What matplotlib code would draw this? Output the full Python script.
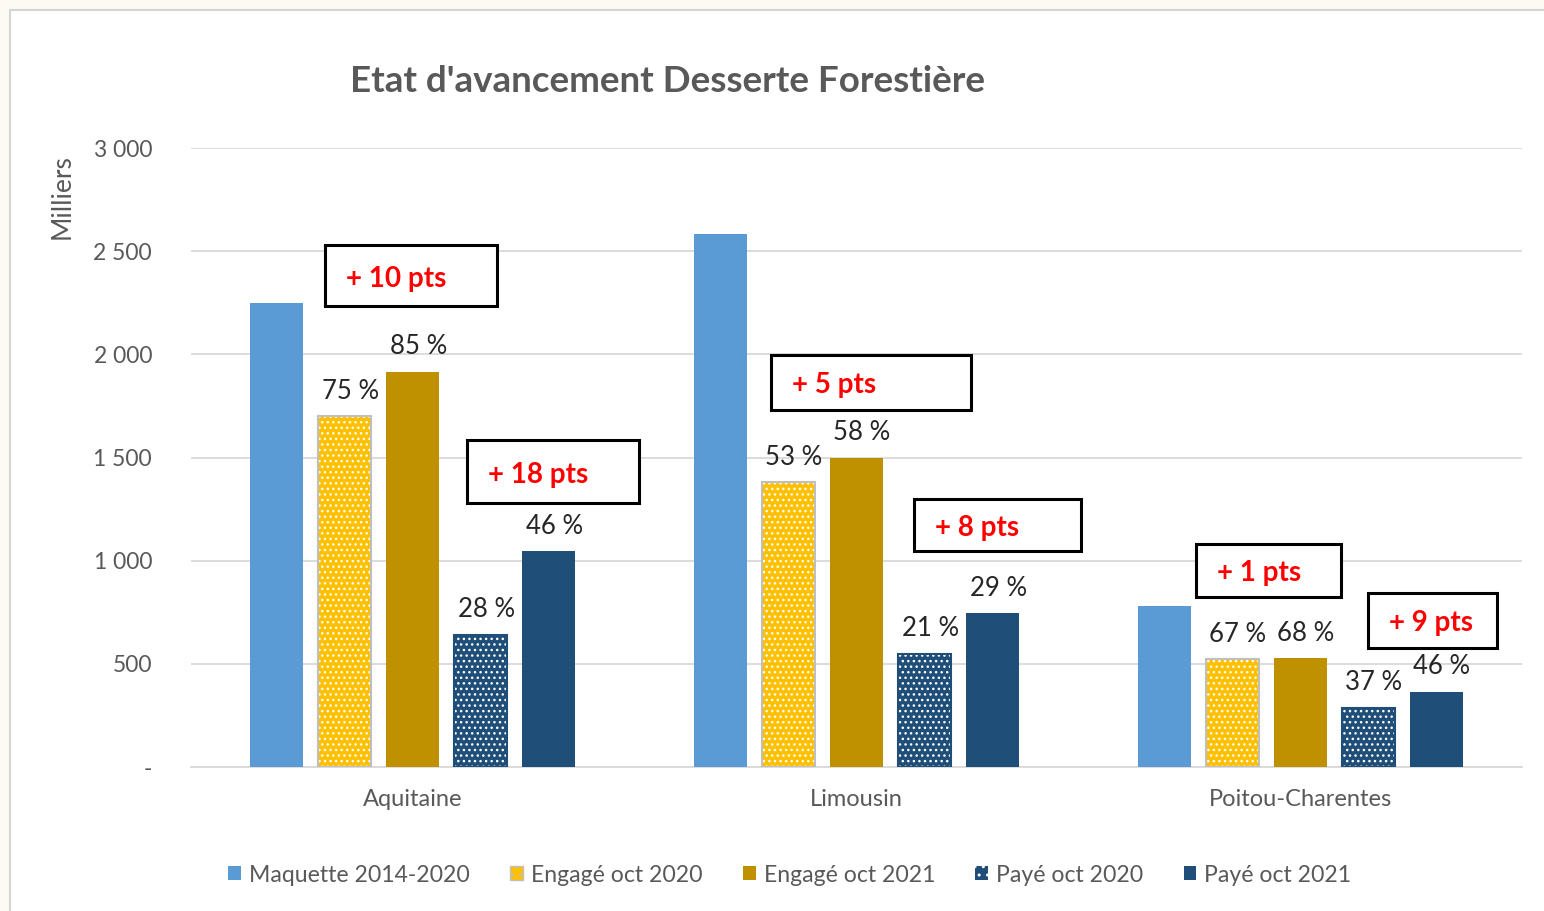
import matplotlib
matplotlib.use("Agg")
import matplotlib.pyplot as plt
import numpy as np
from matplotlib.patches import Patch, Rectangle
from matplotlib.ticker import FuncFormatter

# ---------------- data ----------------
regions = ["Aquitaine", "Limousin", "Poitou-Charentes"]
series_names = ["Maquette 2014-2020", "Engagé oct 2020", "Engagé oct 2021",
                "Payé oct 2020", "Payé oct 2021"]
maquette = [2250, 2585, 780]
engage_2020 = [1700, 1380, 523]
engage_2021 = [1915, 1500, 528]
paye_2020 = [640, 550, 286]
paye_2021 = [1045, 745, 364]

pct_engage_2020 = ["75 %", "53 %", "67 %"]
pct_engage_2021 = ["85 %", "58 %", "68 %"]
pct_paye_2020 = ["28 %", "21 %", "37 %"]
pct_paye_2021 = ["46 %", "29 %", "46 %"]

gain_engage = ["+ 10 pts", "+ 5 pts", "+ 1 pts"]
gain_paye = ["+ 18 pts", "+ 8 pts", "+ 9 pts"]

y_ticks = [0, 500, 1000, 1500, 2000, 2500, 3000]

# ---------------- style ----------------
plt.rcParams['font.family'] = ['Lato', 'DejaVu Sans']
plt.rcParams['hatch.color'] = 'white'
plt.rcParams['hatch.linewidth'] = 1.0

W, H = 1544, 911
fig = plt.figure(figsize=(W / 100, H / 100), dpi=100)
fig.patch.set_facecolor('#fcfaf3')
# white chart area with light grey border
fig.patches.append(Rectangle((9.5 / W, -0.01), 1.1, 1 - 9.5 / H + 0.01,
                             transform=fig.transFigure, facecolor='white',
                             edgecolor='#d4d4d4', linewidth=1.5, zorder=-10))

ax = fig.add_axes([191 / W, 1 - 767 / H, 1331 / W, 619 / H])
ax.set_facecolor('none')

colors = ["#5B9BD5", "#FFC000", "#BF9000", "#1F4E79", "#1F4E79"]
hatches = [None, "...", None, "...", None]
values = [maquette, engage_2020, engage_2021, paye_2020, paye_2021]

x = np.arange(len(regions))
step = 0.1533
width = 0.1195
positions = []
for k, vals in enumerate(values):
    pos = x + (k - 2) * step
    positions.append(pos)
    if hatches[k]:
        ax.bar(pos, vals, width, color=colors[k], hatch=hatches[k],
               linewidth=0, zorder=3)
        edge = '#bfbfbf' if k == 1 else '#1F4E79'
        ax.bar(pos, vals, width, fill=False, edgecolor=edge, linewidth=1.5,
               zorder=4)
    else:
        ax.bar(pos, vals, width, color=colors[k], linewidth=0, zorder=3)

label_sets = {1: pct_engage_2020, 2: pct_engage_2021, 3: pct_paye_2020, 4: pct_paye_2021}
for k, labels in label_sets.items():
    for xp, v, lab in zip(positions[k], values[k], labels):
        ax.annotate(lab, xy=(xp, v), xytext=(4, 9), textcoords='offset points',
                    ha='center', va='bottom', fontsize=18.5, color='#262626',
                    zorder=6)

ax.set_xlim(-0.5, 2.5)
ax.set_ylim(0, 3000)
ax.set_yticks(y_ticks)
ax.yaxis.set_major_formatter(FuncFormatter(
    lambda v, p: '-' if v == 0 else f"{int(v):,}".replace(',', ' ')))
ax.tick_params(axis='y', length=0, pad=28, labelsize=16.5, labelcolor='#595959')
ax.tick_params(axis='x', length=0, pad=16, labelsize=17, labelcolor='#595959')
ax.set_xticks(x)
ax.set_xticklabels(regions)
ax.grid(axis='y', color='#d9d9d9', linewidth=1.3, zorder=0)
ax.set_axisbelow(True)
for s in ['top', 'right', 'left']:
    ax.spines[s].set_visible(False)
ax.spines['bottom'].set_color('#d9d9d9')
ax.spines['bottom'].set_linewidth(1.3)

fig.text(62 / W, 1 - 197 / H, 'Milliers', rotation=90, fontsize=19,
         color='#595959', ha='center', va='center')

fig.text(667 / W, 1 - 81 / H, "Etat d'avancement Desserte Forestière",
         fontsize=26.5, fontweight='bold', color='#595959', ha='center',
         va='center')

# annotation boxes (pixel boxes: left, top, right, bottom)
boxes = [(325, 245, 497, 306), (771, 355, 971, 410), (1196, 544, 1341, 597),
         (467, 440, 639, 503), (914, 499, 1081, 551), (1368, 593, 1497, 648)]
texts = gain_engage + gain_paye
for (l, t, r, b), txt in zip(boxes, texts):
    fig.patches.append(Rectangle((l / W, 1 - b / H), (r - l) / W, (b - t) / H,
                                 transform=fig.transFigure, facecolor='white',
                                 edgecolor='black', linewidth=2.2, zorder=5))
    fig.text((l + 21) / W, 1 - ((t + b) / 2 + 3) / H, txt, fontsize=20,
             fontweight='bold', color='#ff0000', ha='left', va='center',
             zorder=6)

handles = []
for k in range(5):
    if k == 1:
        handles.append(Patch(facecolor=colors[k], hatch='..', edgecolor='#bfbfbf',
                             linewidth=1.0))
    elif k == 3:
        handles.append(Patch(facecolor=colors[k], hatch='..', linewidth=0))
    else:
        handles.append(Patch(facecolor=colors[k], linewidth=0))
leg = fig.legend(handles, series_names, loc='center',
                 bbox_to_anchor=(790 / W, 1 - 875 / H), ncol=5, frameon=False,
                 fontsize=16.6, handlelength=0.55, handleheight=0.55,
                 handletextpad=0.35, columnspacing=1.75)
for t in leg.get_texts():
    t.set_color('#595959')

fig.savefig('out.png', dpi=100)
